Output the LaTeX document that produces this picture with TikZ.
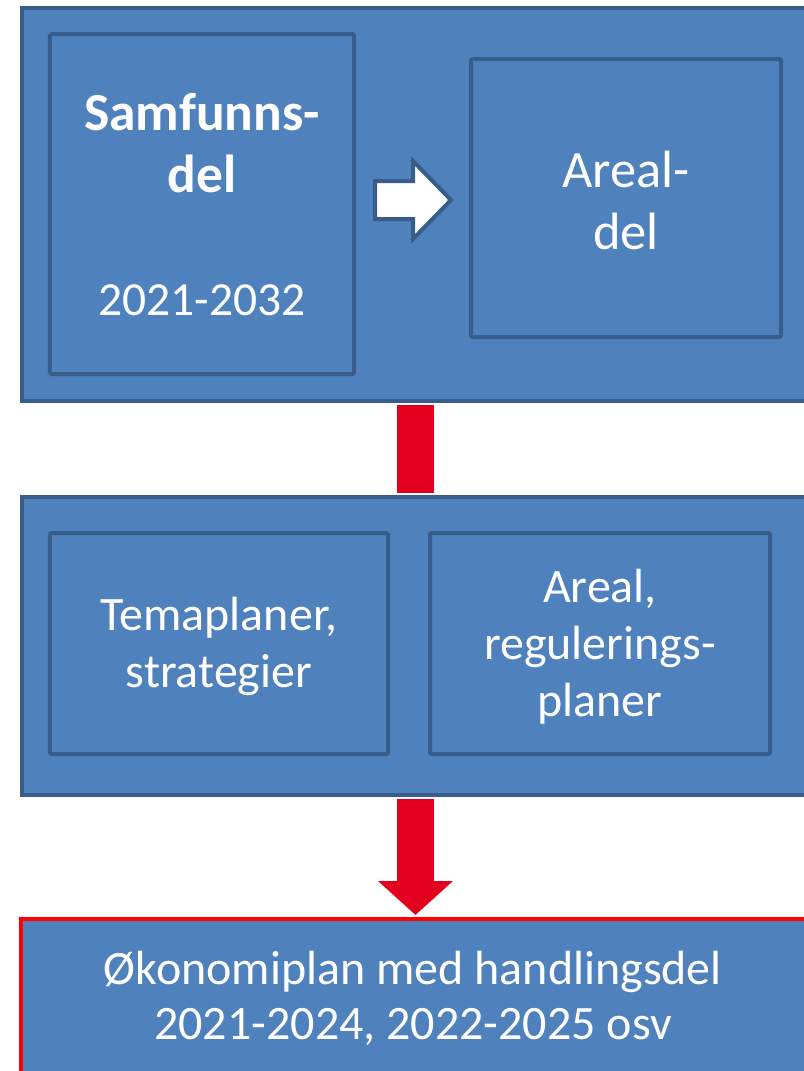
\documentclass[tikz,border=0pt]{standalone}
\usepackage{fontspec}
\setmainfont{Carlito}
\usetikzlibrary{arrows.meta}
\definecolor{boxfill}{HTML}{4F81BD}
\definecolor{boxline}{HTML}{385D8A}
\definecolor{arrred}{HTML}{E3001E}
\definecolor{brdred}{HTML}{FF0000}
\tikzset{
  outerbox/.style={draw=boxline, fill=boxfill, line width=4bp, inner sep=0pt},
  innerbox/.style={draw=boxline, fill=boxfill, line width=4bp, inner sep=0pt, rounded corners=1.5bp},
  redbox/.style={draw=brdred, fill=boxfill, line width=4bp, inner sep=0pt},
  label/.style={text=white, align=center, inner sep=0pt},
  bigtxt/.style={font=\fontsize{53bp}{62bp}\selectfont},
  midtxt/.style={font=\fontsize{48bp}{57bp}\selectfont},
  smalltxt/.style={font=\fontsize{47.5bp}{55bp}\selectfont},
  redconn/.style={draw=arrred, line width=37bp},
}
\begin{document}
\begin{tikzpicture}[x=1bp,y=-1bp]
\useasboundingbox (0,0) rectangle (804,1071);
\clip (0,0) rectangle (804,1071);
% top group
\node[outerbox, minimum width=808bp, minimum height=393bp] (top) at (426,204.5) {};
\node[innerbox, minimum width=304bp, minimum height=340bp] (samf) at (202,204) {};
\node[innerbox, minimum width=310bp, minimum height=278bp] (areal) at (626,198) {};
\node[label, font=\fontsize{53.5bp}{62bp}\selectfont\bfseries] (samft) at (202,143) {Samfunns-\\del};
\node[label, smalltxt] (samfy) at (202,300) {2021-2032};
\node[label, font=\fontsize{52.5bp}{62bp}\selectfont] (arealt) at (626,200) {Areal-\\del};
% white block arrow
\coordinate (wa) at (375,200);
\draw[draw=boxline, fill=white, line width=4bp, line join=miter]
  (wa) ++(0,-19) -- ++(38,0) -- ++(0,-20) -- ++(38,39) -- ++(-38,39) -- ++(0,-20) -- ++(-38,0) -- cycle;
% middle group
\node[outerbox, minimum width=808bp, minimum height=298bp] (mid) at (426,646) {};
\node[innerbox, minimum width=338bp, minimum height=221bp] (tema) at (219,643.5) {};
\node[innerbox, minimum width=340bp, minimum height=221bp] (regul) at (600,643.5) {};
\node[label, midtxt] (tematxt) at ([yshift=-3bp]tema.center) {Temaplaner,\\strategier};
\node[label, midtxt] (regultxt) at ([yshift=-3bp]regul.center) {Areal,\\regulerings-\\planer};
% bottom box
\node[redbox, minimum width=809bp, minimum height=181bp] (bot) at (425.5,1009.5) {};
\node[label, font=\fontsize{48bp}{55bp}\selectfont] (bottxt) at (413,998) {Økonomiplan med handlingsdel\\2021-2024, 2022-2025 osv};
% red connectors
\coordinate (cx) at (415.5,0);
\draw[redconn] ([yshift=-2bp]cx |- top.south) -- ([yshift=2bp]cx |- mid.north);
\draw[redconn, -{Triangle[width=73bp,length=34bp]}] ([yshift=-2bp]cx |- mid.south) -- ([yshift=2bp]cx |- bot.north);
\end{tikzpicture}
\end{document}
